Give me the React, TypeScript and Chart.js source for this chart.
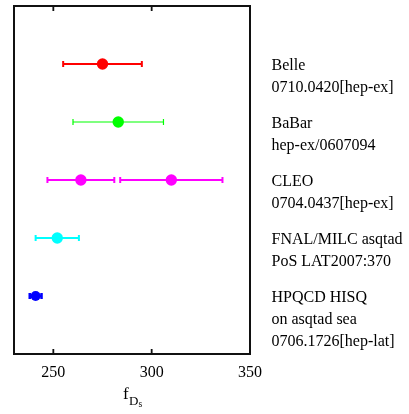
import { useEffect, useRef } from 'react';
import { Chart, registerables } from 'chart.js';

Chart.register(...registerables);

// ---- data ----
const experiments = ['Belle', 'BaBar', 'CLEO', 'FNAL/MILC asqtad', 'HPQCD HISQ'];
const rowPositions = [5, 4, 3, 2, 1];
const centralValues: number[][] = [[275], [283], [264, 310], [252], [241]];
const uncertainties: number[][] = [[20], [23], [17, 26], [11], [3]];
const referenceLines: string[][] = [
  ['Belle', '0710.0420[hep-ex]'],
  ['BaBar', 'hep-ex/0607094'],
  ['CLEO', '0704.0437[hep-ex]'],
  ['FNAL/MILC asqtad', 'PoS LAT2007:370'],
  ['HPQCD HISQ', 'on asqtad sea', '0706.1726[hep-lat]'],
];
const xTicks = [250, 300, 350];
const xMin = 230;
const xMax = 350;
const yMin = 0;
const yMax = 6;

// ---- styles ----
const colors = ['#ff0000', '#00ff00', '#ff00ff', '#00ffff', '#0000ff'];
const errorLineWidths = [2, 1.2, 2, 2, 2.5];
const labelOffset = 6;
const labelLineSpacing = 22;
const FONT = "'Liberation Serif', 'Times New Roman', serif";

const decorPlugin = {
  id: 'decor',
  beforeDatasetsDraw(chart: any) {
    const xs = chart.scales.x;
    const ctx = chart.ctx;
    chart.data.datasets.forEach((_ds: any, i: number) => {
      const meta = chart.getDatasetMeta(i);
      meta.data.forEach((pt: any, j: number) => {
        const v = centralValues[i][j];
        const e = uncertainties[i][j];
        const x0 = xs.getPixelForValue(v - e);
        const x1 = xs.getPixelForValue(v + e);
        const y = pt.y;
        ctx.save();
        ctx.strokeStyle = colors[i];
        ctx.lineWidth = errorLineWidths[i];
        ctx.beginPath();
        ctx.moveTo(x0, y);
        ctx.lineTo(x1, y);
        ctx.moveTo(x0, y - 3);
        ctx.lineTo(x0, y + 3);
        ctx.moveTo(x1, y - 3);
        ctx.lineTo(x1, y + 3);
        ctx.stroke();
        ctx.restore();
      });
    });
  },
  afterDraw(chart: any) {
    const ctx = chart.ctx;
    const a = chart.chartArea;
    const xs = chart.scales.x;
    const ys = chart.scales.y;
    ctx.save();
    // frame
    ctx.strokeStyle = '#111';
    ctx.lineWidth = 2;
    ctx.strokeRect(a.left, a.top, a.right - a.left, a.bottom - a.top);
    // inward ticks
    ctx.lineWidth = 1.8;
    ctx.beginPath();
    xTicks.forEach((t) => {
      const px = xs.getPixelForValue(t);
      ctx.moveTo(px, a.top);
      ctx.lineTo(px, a.top + 5);
      ctx.moveTo(px, a.bottom);
      ctx.lineTo(px, a.bottom - 5);
    });
    ctx.stroke();
    // right-hand labels
    ctx.fillStyle = '#000';
    ctx.font = `16px ${FONT}`;
    ctx.textAlign = 'left';
    ctx.textBaseline = 'alphabetic';
    referenceLines.forEach((lines, i) => {
      const base = ys.getPixelForValue(rowPositions[i]) + labelOffset;
      lines.forEach((line, k) => {
        ctx.fillText(line, a.right + 21.5, base + k * labelLineSpacing);
      });
    });
    // axis title f_{D_s}
    const fSize = 17, dSize = 13, sSize = 9.5;
    ctx.font = `${fSize}px ${FONT}`;
    const wf = ctx.measureText('f').width;
    ctx.font = `${dSize}px ${FONT}`;
    const wd = ctx.measureText('D').width;
    ctx.font = `${sSize}px ${FONT}`;
    const ws = ctx.measureText('s').width;
    const total = wf + 0.5 + wd + ws;
    const cx = (a.left + a.right) / 2 + 0.5;
    let x = cx - total / 2;
    const yb = a.bottom + 45;
    ctx.font = `${fSize}px ${FONT}`;
    ctx.fillText('f', x, yb);
    x += wf + 0.5;
    ctx.font = `${dSize}px ${FONT}`;
    ctx.fillText('D', x, yb + 6);
    x += wd;
    ctx.font = `${sSize}px ${FONT}`;
    ctx.fillText('s', x, yb + 8);
    ctx.restore();
  },
};

export default function App() {
  const ref = useRef<HTMLCanvasElement | null>(null);
  useEffect(() => {
    if (!ref.current) return;
    const chart = new Chart(ref.current, {
      type: 'scatter',
      data: {
        datasets: experiments.map((name, i) => ({
          label: name,
          data: centralValues[i].map((v) => ({ x: v, y: rowPositions[i] })),
          backgroundColor: colors[i],
          borderColor: colors[i],
          borderWidth: 0,
          pointRadius: i === 4 ? 5 : 5.7,
          pointHoverRadius: 6,
        })),
      },
      options: {
        animation: false,
        responsive: false,
        layout: { padding: { left: 14, right: 159, top: 2, bottom: 0 } },
        plugins: { legend: { display: false }, tooltip: { enabled: false } },
        scales: {
          x: {
            type: 'linear',
            min: xMin,
            max: xMax,
            afterBuildTicks: (scale: any) => {
              scale.ticks = xTicks.map((v) => ({ value: v }));
            },
            afterFit: (scale: any) => {
              scale.height = 60;
            },
            grid: { display: false, drawTicks: false },
            border: { display: false },
            ticks: {
              color: '#000',
              padding: 9,
              maxRotation: 0,
              font: { family: FONT, size: 16 },
            },
          },
          y: { type: 'linear', min: yMin, max: yMax, display: false },
        },
      },
      plugins: [decorPlugin],
    });
    return () => chart.destroy();
  }, []);
  return (
    <div style={{ position: 'absolute', left: 0, top: 0, width: 409, height: 414 }}>
      <canvas ref={ref} width={409} height={414} />
    </div>
  );
}
